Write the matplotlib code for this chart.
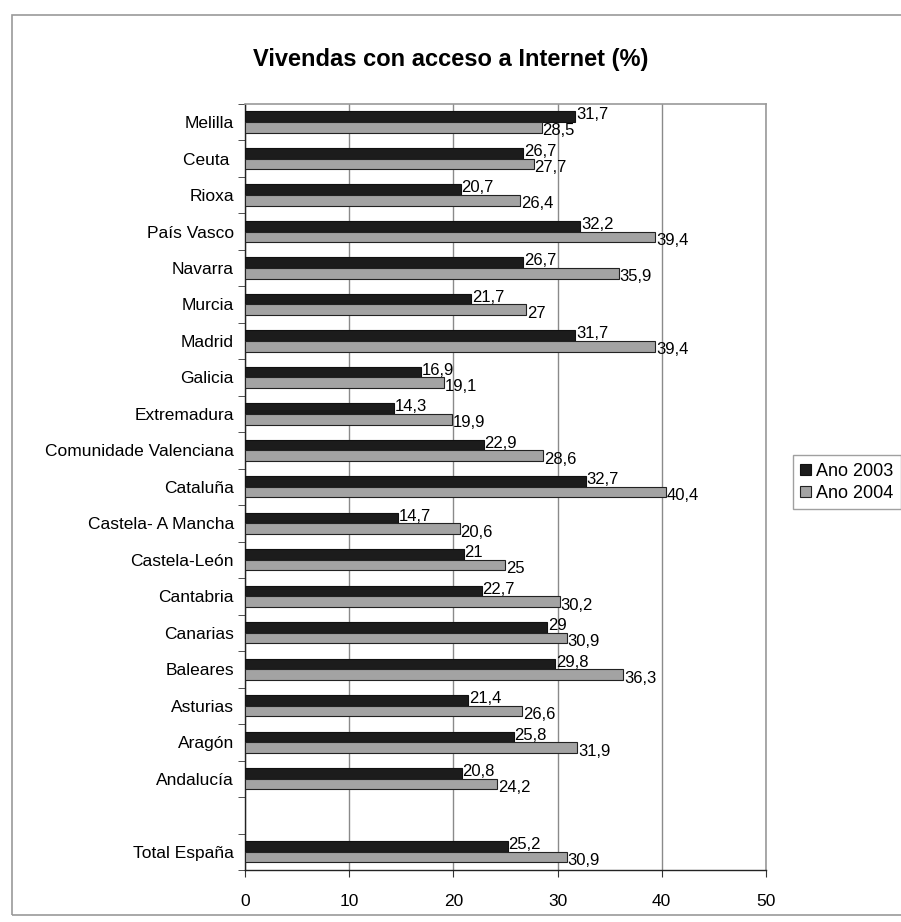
import numpy as np
import matplotlib.pyplot as plt
import matplotlib.patches as mpatches

plt.rcParams["font.family"] = ["Liberation Sans", "DejaVu Sans"]

# categories from bottom to top ("" is the empty gap slot)
regions = ["Total España", "", "Andalucía", "Aragón", "Asturias", "Baleares",
           "Canarias", "Cantabria", "Castela-León", "Castela- A Mancha", "Cataluña",
           "Comunidade Valenciana", "Extremadura", "Galicia", "Madrid", "Murcia",
           "Navarra", "País Vasco", "Rioxa", "Ceuta ", "Melilla"]
ano_2003 = [25.2, None, 20.8, 25.8, 21.4, 29.8, 29, 22.7, 21, 14.7, 32.7,
            22.9, 14.3, 16.9, 31.7, 21.7, 26.7, 32.2, 20.7, 26.7, 31.7]
ano_2004 = [30.9, None, 24.2, 31.9, 26.6, 36.3, 30.9, 30.2, 25, 20.6, 40.4,
            28.6, 19.9, 19.1, 39.4, 27, 35.9, 39.4, 26.4, 27.7, 28.5]
x_ticks = [0, 10, 20, 30, 40, 50]


def fmt(v):
    if float(v).is_integer():
        return str(int(v))
    return f"{v:.1f}".replace(".", ",")


fig = plt.figure(figsize=(9.01, 9.22), dpi=100)
ax = fig.add_axes([0.272, 0.0564, 0.578, 0.831])

# outer chart frame
fig.patches.append(mpatches.Rectangle((0.013, 0.008), 1.0, 0.976, transform=fig.transFigure,
                                      fill=False, edgecolor="#9a9a9a", linewidth=1.2))

y = np.arange(len(regions))
h = 0.29
idx = [i for i, v in enumerate(ano_2003) if v is not None]
v03 = [ano_2003[i] for i in idx]
v04 = [ano_2004[i] for i in idx]
yy = y[idx]

b1 = ax.barh(yy + h / 2, v03, height=h, color="#1c1c1c", edgecolor="#111111", linewidth=0.8,
             label="Ano 2003", zorder=3)
b2 = ax.barh(yy - h / 2, v04, height=h, color="#a3a3a3", edgecolor="#222222", linewidth=0.8,
             label="Ano 2004", zorder=3)

for yc, v in zip(yy, v03):
    ax.annotate(fmt(v), (v, yc + h / 2 + 0.05), xytext=(0.5, 0), textcoords="offset points",
                va="center", ha="left", fontsize=12, zorder=4)
for yc, v in zip(yy, v04):
    ax.annotate(fmt(v), (v, yc - h / 2 - 0.1), xytext=(0.5, 0), textcoords="offset points",
                va="center", ha="left", fontsize=12, zorder=4)

ax.set_xlim(0, 50)
ax.set_ylim(-0.5, len(regions) - 0.5)
ax.set_xticks(x_ticks)
ax.set_xticklabels([str(t) for t in x_ticks], fontsize=12.5)
ax.tick_params(axis="x", direction="out", length=5, pad=12, color="#333333")

ax.set_yticks(y)
ax.set_yticklabels(regions, fontsize=12.5)
ax.set_yticks(np.arange(-0.5, len(regions), 1), minor=True)
ax.tick_params(axis="y", which="major", length=0, pad=8)
ax.tick_params(axis="y", which="minor", direction="out", length=5, color="#333333")

ax.xaxis.grid(True, color="#8a8a8a", linewidth=1.0, zorder=0)
ax.set_axisbelow(True)
for side in ["top", "right"]:
    ax.spines[side].set_color("#9a9a9a")
    ax.spines[side].set_linewidth(1.2)
for side in ["left", "bottom"]:
    ax.spines[side].set_color("#222222")
    ax.spines[side].set_linewidth(1.0)

fig.text(0.5, 0.935, "Vivendas con acceso a Internet (%)", ha="center", va="center",
         fontsize=17, fontweight="bold")

fig.legend(handles=[b1, b2], loc="upper left", bbox_to_anchor=(0.880, 0.506),
           frameon=True, fancybox=False, edgecolor="#888888", fontsize=13,
           handlelength=0.6, handleheight=0.6, handletextpad=0.3, borderpad=0.4,
           labelspacing=0.3, borderaxespad=0)

fig.savefig("out.png", dpi=100)
